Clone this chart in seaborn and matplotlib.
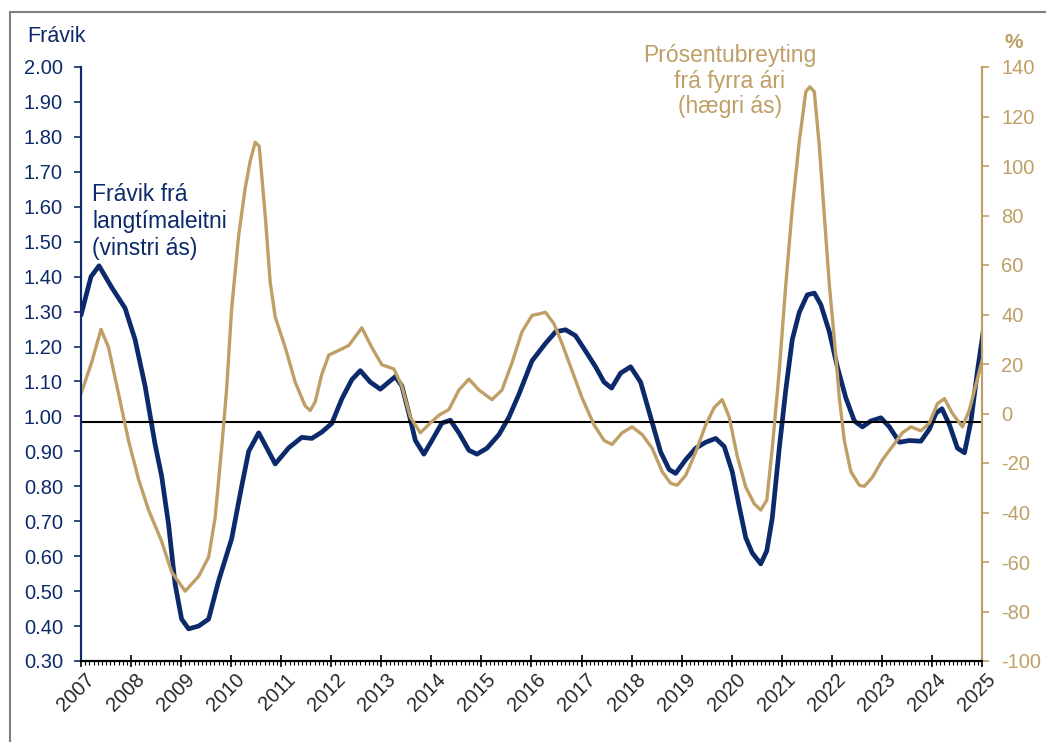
import matplotlib
matplotlib.use("Agg")
import matplotlib.pyplot as plt
import matplotlib.transforms as mtransforms
from matplotlib.patches import Rectangle
from matplotlib.ticker import MultipleLocator, FormatStrFormatter
import seaborn as sns

NAVY = "#0c2a6a"
GOLD = "#bf9f66"

# ── Data ──────────────────────────────────────────────────
# Frávik frá langtímaleitni, left axis
dev_t = [2007.00, 2007.20, 2007.36, 2007.61, 2007.88, 2008.08, 2008.28, 2008.48,
         2008.61, 2008.75, 2008.88, 2009.01, 2009.15, 2009.35, 2009.55, 2009.75,
         2010.01, 2010.21, 2010.35, 2010.55, 2010.71, 2010.88, 2011.15, 2011.41,
         2011.61, 2011.81, 2012.01, 2012.21, 2012.41, 2012.58, 2012.78, 2012.98,
         2013.28, 2013.41, 2013.55, 2013.68, 2013.85, 2014.01, 2014.21, 2014.38,
         2014.55, 2014.75, 2014.91, 2015.11, 2015.35, 2015.55, 2015.75, 2016.01,
         2016.28, 2016.48, 2016.68, 2016.88, 2017.08, 2017.28, 2017.45, 2017.60,
         2017.78, 2017.98, 2018.18, 2018.38, 2018.58, 2018.75, 2018.88, 2019.08,
         2019.28, 2019.48, 2019.68, 2019.85, 2020.01, 2020.15, 2020.28, 2020.41,
         2020.58, 2020.70, 2020.81, 2020.95, 2021.08, 2021.21, 2021.35, 2021.51,
         2021.65, 2021.78, 2021.95, 2022.11, 2022.28, 2022.45, 2022.61, 2022.78,
         2022.98, 2023.15, 2023.35, 2023.55, 2023.78, 2023.95, 2024.08, 2024.20,
         2024.35, 2024.51, 2024.65, 2024.78, 2024.91, 2025.03]
dev_v = [1.29, 1.40, 1.431, 1.37, 1.31, 1.22, 1.087, 0.92,
         0.83, 0.69, 0.52, 0.42, 0.392, 0.40, 0.42, 0.53,
         0.65, 0.80, 0.90, 0.953, 0.91, 0.864, 0.91, 0.94,
         0.937, 0.955, 0.98, 1.05, 1.105, 1.131, 1.098, 1.078,
         1.114, 1.087, 1.009, 0.931, 0.892, 0.931, 0.981, 0.989,
         0.953, 0.903, 0.892, 0.909, 0.948, 0.998, 1.064, 1.159,
         1.209, 1.242, 1.248, 1.231, 1.187, 1.142, 1.098, 1.081,
         1.124, 1.142, 1.098, 0.998, 0.898, 0.848, 0.837, 0.876,
         0.909, 0.926, 0.937, 0.914, 0.842, 0.742, 0.653, 0.609,
         0.578, 0.615, 0.709, 0.909, 1.076, 1.22, 1.298, 1.348,
         1.353, 1.32, 1.242, 1.142, 1.053, 0.987, 0.97, 0.987,
         0.996, 0.97, 0.926, 0.931, 0.929, 0.964, 1.009, 1.022,
         0.976, 0.909, 0.896, 0.987, 1.131, 1.248]

# Prósentubreyting frá fyrra ári, right axis (%)
chg_t = [2007.00, 2007.21, 2007.40, 2007.55, 2007.75, 2007.95, 2008.15, 2008.35,
         2008.61, 2008.81, 2009.08, 2009.35, 2009.55, 2009.68, 2009.81, 2009.91,
         2010.01, 2010.15, 2010.28, 2010.38, 2010.48, 2010.56, 2010.68, 2010.78,
         2010.88, 2011.08, 2011.28, 2011.48, 2011.58, 2011.68, 2011.81, 2011.95,
         2012.15, 2012.35, 2012.61, 2012.81, 2013.01, 2013.25, 2013.41, 2013.58,
         2013.78, 2013.98, 2014.15, 2014.35, 2014.55, 2014.75, 2014.95, 2015.21,
         2015.41, 2015.61, 2015.81, 2016.01, 2016.28, 2016.45, 2016.61, 2016.81,
         2017.01, 2017.25, 2017.45, 2017.61, 2017.81, 2018.01, 2018.21, 2018.41,
         2018.61, 2018.78, 2018.91, 2019.08, 2019.28, 2019.48, 2019.65, 2019.81,
         2019.95, 2020.11, 2020.28, 2020.45, 2020.58, 2020.70, 2020.81, 2020.95,
         2021.08, 2021.21, 2021.35, 2021.48, 2021.56, 2021.65, 2021.75, 2021.85,
         2021.95, 2022.05, 2022.15, 2022.25, 2022.38, 2022.55, 2022.65, 2022.81,
         2023.01, 2023.21, 2023.41, 2023.58, 2023.78, 2023.95, 2024.11, 2024.25,
         2024.41, 2024.61, 2024.75, 2024.88, 2025.03]
chg_v = [8, 20.5, 34, 26.7, 8, -11, -26.6, -39,
         -51.6, -64, -71.8, -65.8, -58, -42, -14, 10,
         42.4, 72, 91, 102, 109.6, 108, 80, 53,
         39, 26.7, 12.6, 3, 1.2, 4.8, 15.8, 23.6,
         25.5, 27.5, 34.6, 26.7, 19.7, 18, 11, -1.5,
         -7.8, -3.8, -0.7, 1.6, 9.5, 13.9, 9.5, 5.6,
         9.5, 20.5, 33, 39.6, 40.9, 36.2, 28.3, 17.3,
         6.3, -4.6, -10.9, -12.5, -7.8, -5.4, -8.5, -14,
         -23.5, -28.2, -29, -25, -15.6, -4.6, 2.4, 5.6,
         -1.5, -17.2, -29.7, -36.5, -39, -35, -14, 17.3,
         52, 83, 110, 130, 132, 130, 108, 80,
         52, 30, 6.3, -11, -23.5, -29, -29.4, -25.8,
         -18.7, -13.3, -7.8, -5.4, -7, -3.8, 4, 6,
         0, -5.4, 1.6, 11.8, 23.6]

long_run = 0.983
years = list(range(2007, 2026))

# ── Figure ────────────────────────────────────────────────
sns.set_theme(style="ticks")
plt.rcParams["font.family"] = ["Liberation Sans", "DejaVu Sans"]
plt.rcParams["axes.unicode_minus"] = False
plt.rcParams["lines.solid_joinstyle"] = "round"
plt.rcParams["lines.solid_capstyle"] = "round"

fig = plt.figure(figsize=(10.46, 7.42), dpi=100)
fig.patch.set_facecolor("white")
fig.patches.append(Rectangle((10 / 1046, -0.05), 1.1, 1.05 - 12 / 742,
                             transform=fig.transFigure, fill=False,
                             edgecolor="#7f7f7f", linewidth=1.5))

ax = fig.add_axes([81 / 1046, 1 - 661 / 742, 901 / 1046, 594 / 742])
ax2 = ax.twinx()

sns.lineplot(x=chg_t, y=chg_v, ax=ax2, color=GOLD, linewidth=2.4)
sns.lineplot(x=dev_t, y=dev_v, ax=ax, color=NAVY, linewidth=3.4)
ax.axhline(long_run, color="black", linewidth=1.5, solid_capstyle="butt")

# left axis
ax.set_xlim(2007, 2025)
ax.set_ylim(0.30, 2.00)
ax.yaxis.set_major_locator(MultipleLocator(0.1))
ax.yaxis.set_major_formatter(FormatStrFormatter("%.2f"))
ax.tick_params(axis="y", colors=NAVY, labelsize=14.5, length=5, width=1.2, pad=8)
ax.set_ylabel("")

# right axis
ax2.set_ylim(-100, 140)
ax2.yaxis.set_major_locator(MultipleLocator(20))
ax2.tick_params(axis="y", colors=GOLD, labelsize=14.5, length=5, width=1.2, pad=9)
ax2.set_ylabel("")

# x axis
ax.set_xticks(years)
ax.xaxis.set_minor_locator(MultipleLocator(1 / 12))
ax.tick_params(axis="x", which="major", direction="inout", length=9,
               width=1.2, color="black", labelsize=14.5, pad=2)
ax.tick_params(axis="x", which="minor", direction="out", length=3,
               width=0.8, color="black")
ax.set_xticklabels([str(y) for y in years], rotation=45, ha="right",
                   va="top", rotation_mode="anchor")
shift = mtransforms.ScaledTranslation(3 / 72, 0, fig.dpi_scale_trans)
for lab in ax.get_xticklabels():
    lab.set_transform(lab.get_transform() + shift)

for a in (ax, ax2):
    a.spines["top"].set_visible(False)
    a.spines["left"].set_color(NAVY)
    a.spines["right"].set_color(GOLD)
    a.spines["bottom"].set_color("black")
    for s in ("left", "right", "bottom"):
        a.spines[s].set_linewidth(1.5)
    a.patch.set_visible(False)
    a.grid(False)

# annotations
ax.text(2007.22, 1.558, "Frávik frá\nlangtímaleitni\n(vinstri ás)",
        color=NAVY, fontsize=16.5, ha="left", va="center", linespacing=1.2)
ax2.text(2019.965, 134.3, "Prósentubreyting\nfrá fyrra ári\n(hægri ás)",
         color=GOLD, fontsize=16.5, ha="center", va="center",
         multialignment="center", linespacing=1.15)

fig.text(27 / 1046, 1 - 37 / 742, "Frávik", color=NAVY, fontsize=15.5,
         ha="left", va="center")
fig.text(1014 / 1046, 1 - 43 / 742, "%", color=GOLD, fontsize=15,
         fontweight="bold", ha="center", va="center")

fig.savefig("out.png", dpi=100)
